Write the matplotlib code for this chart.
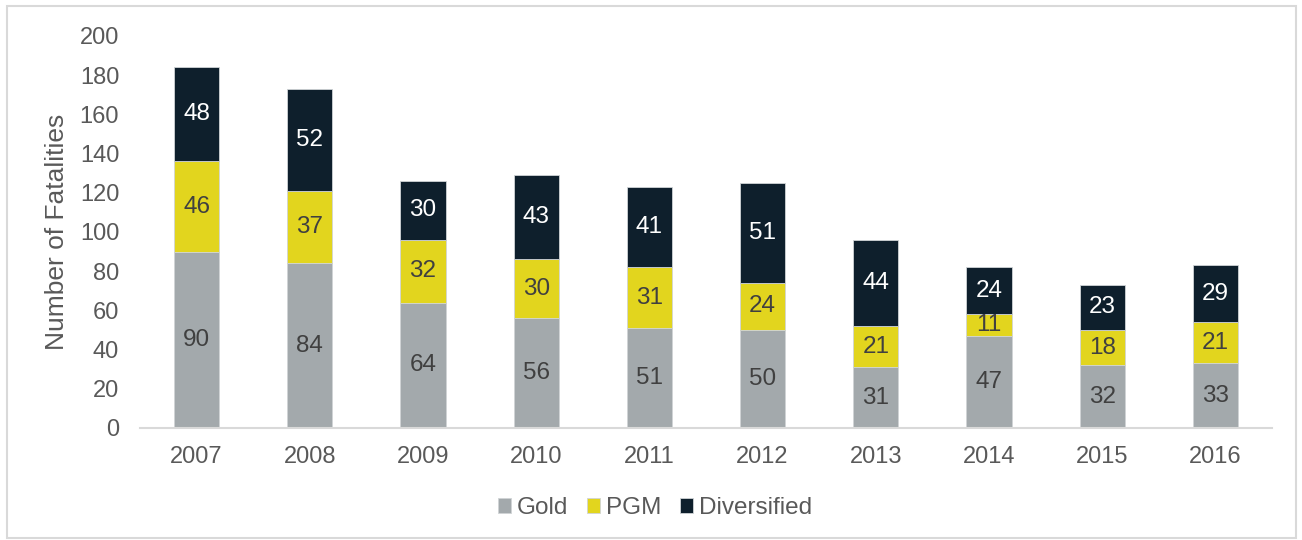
import matplotlib
matplotlib.use("Agg")
import matplotlib.pyplot as plt
from matplotlib.patches import Rectangle
import numpy as np

years = ["2007", "2008", "2009", "2010", "2011", "2012", "2013", "2014", "2015", "2016"]
gold = [90, 84, 64, 56, 51, 50, 31, 47, 32, 33]
pgm = [46, 37, 32, 30, 31, 24, 21, 11, 18, 21]
diversified = [48, 52, 30, 43, 41, 51, 44, 24, 23, 29]

series = [
    ("Gold", gold, "#A3A9AC", "#404040"),
    ("PGM", pgm, "#E2D51E", "#404040"),
    ("Diversified", diversified, "#0E1F2C", "#FFFFFF"),
]

plt.rcParams["font.family"] = ["Liberation Sans", "DejaVu Sans"]
text_color = "#595959"

fig = plt.figure(figsize=(13.02, 5.40), dpi=100)
ax = fig.add_axes([140 / 1302, 1 - 428 / 540, 1132 / 1302, 392 / 540])

x = np.arange(len(years))
bottom = np.zeros(len(years))
for name, vals, color, lab_color in series:
    vals = np.array(vals, dtype=float)
    ax.bar(x, vals, width=0.4, bottom=bottom, color=color,
           edgecolor="#D0D4D6", linewidth=0.6, label=name, zorder=2)
    for xi, b, v in zip(x, bottom, vals):
        ax.text(xi, b + v / 2, f"{int(v)}", ha="center", va="center",
                fontsize=17.5, color=lab_color, zorder=3)
    bottom += vals

ax.set_xlim(-0.5, len(years) - 0.5)
ax.set_ylim(0, 200)
ax.set_yticks(range(0, 201, 20))
ax.set_xticks(x)
ax.set_xticklabels(years)
ax.tick_params(axis="both", length=0, labelsize=17, labelcolor=text_color)
ax.tick_params(axis="y", pad=15)
ax.tick_params(axis="x", pad=13)
for side in ["top", "right", "left"]:
    ax.spines[side].set_visible(False)
ax.spines["bottom"].set_color("#D9D9D9")
ax.spines["bottom"].set_linewidth(1.5)

ax.set_ylabel("Number of Fatalities", fontsize=19, color=text_color, labelpad=8)

fig.legend(loc="center", bbox_to_anchor=(0.503, 1 - 508 / 540), ncol=3,
           frameon=False, fontsize=17.5, handlelength=0.55, handleheight=0.55,
           handletextpad=0.25, columnspacing=0.75, labelcolor=text_color)

fig.patches.append(Rectangle((7 / 1302, 2 / 540), 1289 / 1302, 532 / 540,
                             transform=fig.transFigure, fill=False,
                             edgecolor="#D9D9D9", linewidth=1.5))

fig.savefig("out.png", dpi=100)
